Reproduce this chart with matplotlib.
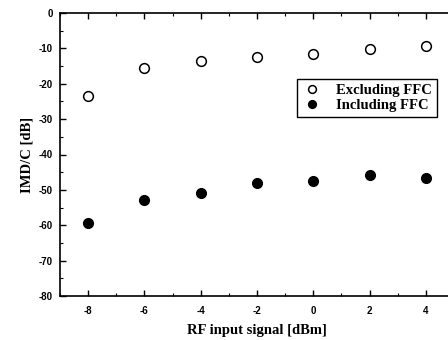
import matplotlib
matplotlib.use('Agg')

import matplotlib.pyplot as plt
from matplotlib.ticker import MultipleLocator
from matplotlib.font_manager import FontProperties

plt.rcParams['axes.unicode_minus'] = False

# data
rf_input = [-8, -6, -4, -2, 0, 2, 4]
imd_excluding = [-23.5, -15.5, -13.5, -12.3, -11.7, -10.3, -9.3]
imd_including = [-59.5, -52.8, -51.0, -48.0, -47.5, -45.8, -46.7]

fig = plt.figure(figsize=(4.48, 3.40), dpi=100)
# axes run off the right edge, as in the scanned figure
ax = fig.add_axes([60 / 448, 44 / 340, 394 / 448, 283 / 340])

ax.plot(rf_input, imd_excluding, 'o', mfc='white', mec='black', mew=1.1, ms=7,
        label='Excluding FFC')
ax.plot(rf_input, imd_including, 'o', mfc='black', mec='black', ms=7,
        label='Including FFC')

ax.set_xlim(-9, 5)
ax.set_ylim(-80, 0)
ax.xaxis.set_major_locator(MultipleLocator(2))
ax.xaxis.set_minor_locator(MultipleLocator(1))
ax.yaxis.set_major_locator(MultipleLocator(10))
ax.yaxis.set_minor_locator(MultipleLocator(5))
ax.tick_params(which='both', direction='in', top=True, right=False)
ax.tick_params(which='major', length=4, width=1)
ax.tick_params(which='minor', length=2, width=0.8)

tick_fp = FontProperties(family='Liberation Sans', weight='bold', size=7)
for lbl in ax.get_xticklabels() + ax.get_yticklabels():
    lbl.set_fontproperties(tick_fp)
ax.tick_params(axis='x', pad=7)
ax.tick_params(axis='y', pad=5)

for s in ax.spines.values():
    s.set_linewidth(1.2)

label_font = {'family': 'Liberation Serif', 'weight': 'bold', 'size': 10.5}
ax.set_xlabel('RF input signal [dBm]', fontdict=label_font, labelpad=6)
ax.set_ylabel('IMD/C [dB]', fontdict=label_font, labelpad=4)

leg = ax.legend(loc='upper left', bbox_to_anchor=(237 / 394, 1 - 66 / 283),
                borderaxespad=0,
                prop={'family': 'Liberation Serif', 'weight': 'bold', 'size': 10.5},
                frameon=True, fancybox=False, edgecolor='black', framealpha=1,
                handletextpad=0.9, borderpad=0.35, labelspacing=0.12,
                handlelength=1.4, markerscale=0.8)
leg.get_frame().set_linewidth(1.0)

plt.savefig('out.png', dpi=100)
plt.close(fig)
